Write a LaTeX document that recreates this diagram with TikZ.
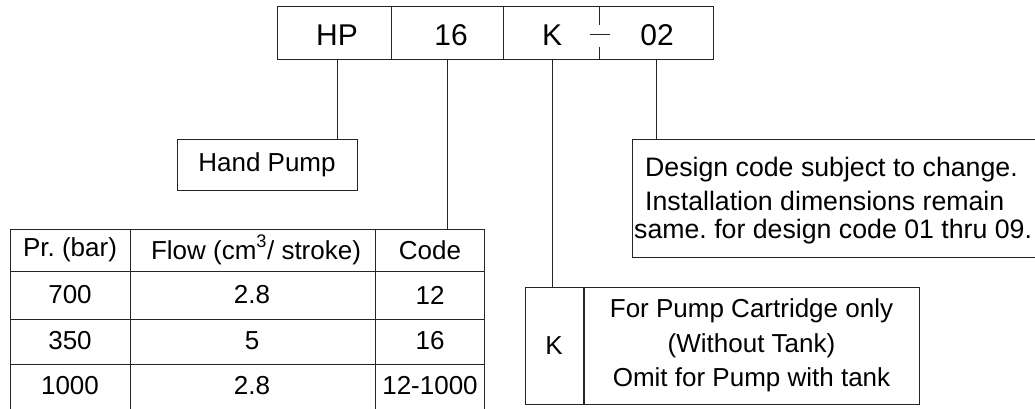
\documentclass[tikz,border=0pt]{standalone}
\usepackage{fontspec}
\setmainfont{Liberation Sans}
\frenchspacing
\begin{document}
\begin{tikzpicture}[x=1pt,y=-1pt,
  ln/.style={draw=black!85,line width=1pt},
  big/.style={font=\fontsize{30}{35}\selectfont,inner sep=0pt},
  txt/.style={font=\fontsize{26}{31}\selectfont,inner sep=0pt},
  dtxt/.style={font=\fontsize{26.7}{31}\selectfont,inner sep=0pt},
  box/.style={ln,rectangle,inner sep=0pt,font=\fontsize{26}{31}\selectfont}]
\useasboundingbox (0,0) rectangle (1035,409);
\clip (0,0) rectangle (1035,409);
% top code box
\draw[ln] (277,7) rectangle (713,60);
\draw[ln] (391,7) -- (391,60);
\draw[ln] (503,7) -- (503,60);
\draw[ln] (599,7) -- (599,25);
\draw[ln] (599,47) -- (599,60);
\draw[ln] (590,35) -- (610,35);
\node[big] (hp) at (337,35) {HP};
\node[big] (n16) at (451,35) {16};
\node[big] (k) at (552,35) {K};
\node[big] (n02) at (657,35) {02};
\coordinate (c1) at (337,60);
\coordinate (c2) at (447,60);
\coordinate (c3) at (552,60);
\coordinate (c4) at (656,60);
% hand pump
\node[box,minimum width=180,minimum height=51] (hand) at (267,164.5) {Hand Pump};
% table
\coordinate (ttop) at (447,229);
\draw[ln] (10,409) -- (10,229) -- (484,229) -- (484,409);
\draw[ln] (130,229) -- (130,409);
\draw[ln] (375,229) -- (375,409);
\draw[ln] (10,271) -- (484,271);
\draw[ln] (10,319) -- (484,319);
\draw[ln] (10,364) -- (484,364);
\node[txt] (h1) at (70,250) {Pr. (bar)};
\node[txt] (h2) at (256,250) {Flow (cm\raisebox{3pt}{\textsuperscript{3}}/ stroke)};
\node[txt] (h3) at (430,250) {Code};
\node[txt] (r11) at (70,295) {700};
\node[txt] (r12) at (252,295) {2.8};
\node[txt] (r13) at (430,295) {12};
\node[txt] (r21) at (70,341) {350};
\node[txt] (r22) at (252,341) {5};
\node[txt] (r23) at (430,341) {16};
\node[txt] (r31) at (70,386) {1000};
\node[txt] (r32) at (252,386) {2.8};
\node[txt] (r33) at (430,386) {12-1000};
% K box
\node[box,minimum width=58,minimum height=117] (kk) at (554,345.5) {K};
\node[box,minimum width=335,minimum height=117,anchor=west,align=center] (kd) at (kk.east)
  {For Pump Cartridge only\\[3.5pt](Without Tank)\\[3.5pt]Omit for Pump with tank};
% design box
\node[box,minimum width=420,minimum height=118,anchor=north west] (des) at (632,139) {};
\node[dtxt,anchor=west] (d1) at (645,170) {Design code subject to change.};
\node[dtxt,anchor=west] (d2) at (645,201) {Installation dimensions remain};
\node[dtxt,anchor=west] (d3) at (634,232) {same. for design code 01 thru 09.};
% connectors
\draw[ln] (c1) -- (c1 |- hand.north);
\draw[ln] (c2) -- (ttop);
\draw[ln] (c3) -- (c3 |- kk.north);
\draw[ln] (c4) -- (c4 |- des.north);
\end{tikzpicture}
\end{document}
